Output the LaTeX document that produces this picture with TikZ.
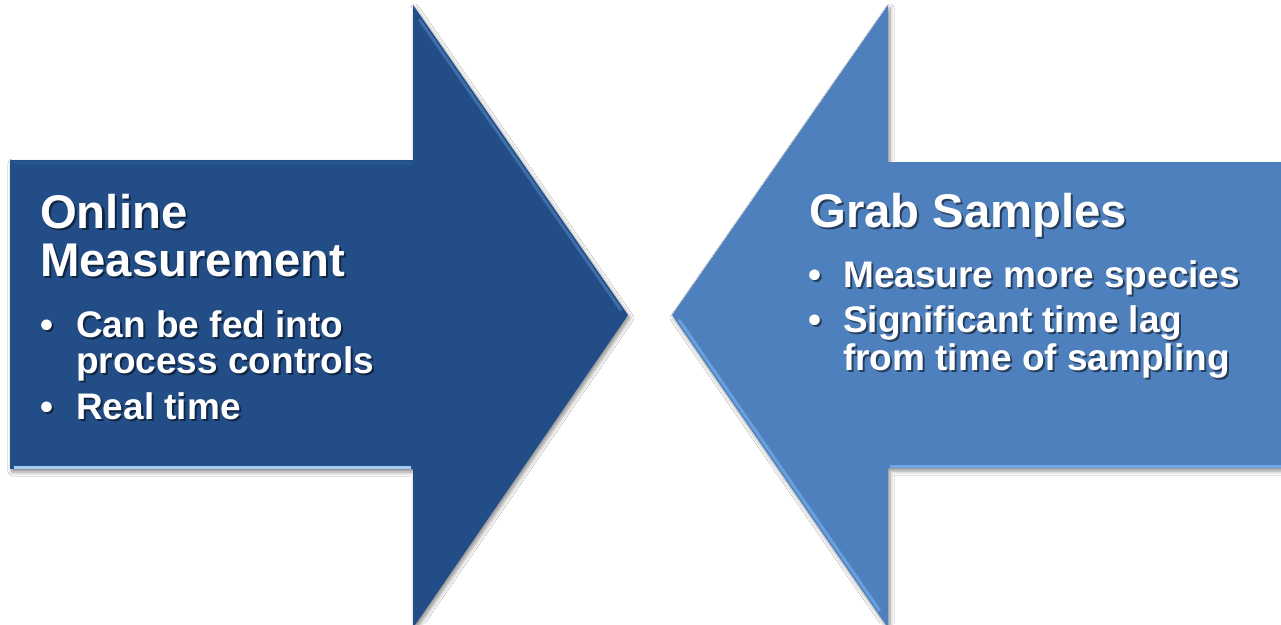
\documentclass[tikz,border=0pt]{standalone}
\usepackage{fontspec}
\setmainfont{Liberation Sans}
\usetikzlibrary{shadows.blur}
\definecolor{darkarrow}{RGB}{34,77,134}
\definecolor{darkarrowtop}{RGB}{38,84,145}
\definecolor{lightarrow}{RGB}{78,128,190}
\definecolor{hlight}{RGB}{165,205,240}
\definecolor{hlightb}{RGB}{110,168,228}
\tikzset{
  arrowshadow/.style={blur shadow={shadow xshift=2pt, shadow yshift=-3pt, shadow blur radius=4pt, shadow opacity=45}},
  txt/.style={anchor=base west, inner sep=0pt, text=white},
  txtshadow/.style={anchor=base west, inner sep=0pt, text=black, text opacity=0.5},
}
\newcommand\stext[5]{%
  \node[txtshadow, font=\fontsize{#4}{#4}\selectfont\bfseries] (#1s) at (#2+2,#3+2.5) {#5};
  \node[txt, font=\fontsize{#4}{#4}\selectfont\bfseries] (#1) at (#2,#3) {#5};}
\begin{document}
\begin{tikzpicture}[x=1pt,y=-1pt]
\useasboundingbox (0,0) rectangle (1281,624);
\fill[white] (0,0) rectangle (1281,624);
\begin{scope}
\clip (0,0) rectangle (1281,624);
% left arrow
\fill[darkarrow, arrowshadow] (10,160) -- (413,160) -- (413,5) -- (628,315) -- (413,628) -- (413,469) -- (10,469) -- cycle;
\draw[darkarrowtop, line width=4] (14,163) -- (413,163);
\draw[hlight, line width=3] (14,467) -- (411,467);
\draw[hlightb!60!darkarrow, line width=3, opacity=0.6] (419.1,19.1) -- (621.2,310.5);
% right arrow
\fill[lightarrow, arrowshadow] (1290,162) -- (888,162) -- (888,5) -- (672,315) -- (888,628) -- (888,468) -- (1290,468) -- cycle;
\draw[hlightb, line width=3] (890,466) -- (1290,466);
\draw[hlightb, line width=3, opacity=0.8] (678.8,319.6) -- (879.7,610.7);
\end{scope}
% left text
\stext{ltitleA}{40}{228}{47.3}{Online}
\stext{ltitleB}{40}{276}{47.3}{Measurement}
\stext{lbdotA}{40}{337}{37}{•}
\stext{lbA}{76}{337}{37}{Can be fed into}
\stext{lbB}{76}{373}{37}{process controls}
\stext{lbdotB}{40}{419}{37}{•}
\stext{lbC}{76}{419}{37}{Real time}
% right text
\stext{rtitle}{809}{227}{47.3}{Grab Samples}
\stext{rbdotA}{808}{287}{37}{•}
\stext{rbA}{843}{287}{37}{Measure more species}
\stext{rbdotB}{808}{332}{37}{•}
\stext{rbB}{843}{332}{37}{Significant time lag}
\stext{rbC}{843}{370}{37}{from time of sampling}
\end{tikzpicture}
\end{document}
